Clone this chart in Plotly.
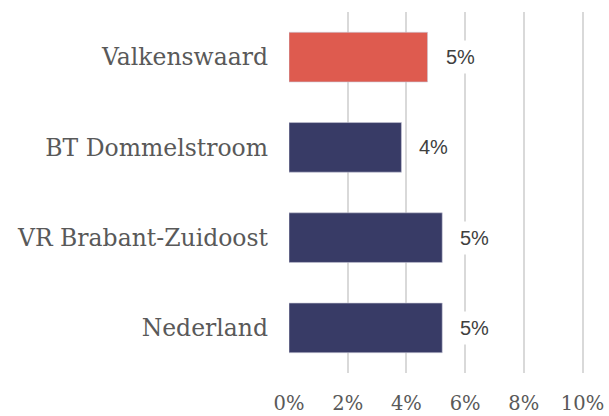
import plotly.graph_objects as go

# Share per area (fraction), top to bottom
areas = ["Valkenswaard", "BT Dommelstroom", "VR Brabant-Zuidoost", "Nederland"]
shares = [0.0472, 0.0383, 0.0522, 0.0522]
bar_colors = ["#DE5B4F", "#383B66", "#383B66", "#383B66"]

tick_vals = [0, 0.02, 0.04, 0.06, 0.08, 0.10]
tick_text = ["0%", "2%", "4%", "6%", "8%", "10%"]

fig = go.Figure(
    go.Bar(
        x=shares,
        y=areas,
        orientation="h",
        marker=dict(color=bar_colors, line=dict(color="rgba(200,200,215,0.6)", width=1)),
        width=0.55,
        hoverinfo="skip",
    )
)

# Value labels on a white box so the gridlines stop behind them
for area, v in zip(areas, shares):
    fig.add_annotation(
        x=v, y=area, text=f"{v:.0%}", showarrow=False,
        xanchor="left", yanchor="middle", xshift=12,
        bgcolor="white", borderpad=5,
        font=dict(family="Liberation Sans, Arial, sans-serif", size=20, color="#404040"),
    )

fig.update_layout(
    width=609, height=416,
    margin=dict(l=289, r=25, t=12, b=43, autoexpand=False),
    paper_bgcolor="white", plot_bgcolor="white",
    showlegend=False,
    font=dict(family="DejaVu Serif, serif", color="#595959"),
)
fig.update_xaxes(
    range=[0, 0.1005],
    tickvals=tick_vals, ticktext=tick_text,
    showgrid=True, gridcolor="#D9D9D9", gridwidth=2,
    zeroline=False, showline=False,
    automargin=False,
    tickfont=dict(family="DejaVu Serif, serif", size=19.5, color="#595959"),
    ticklabelstandoff=16,
)
fig.update_yaxes(
    autorange="reversed",
    showgrid=False, zeroline=False, showline=False,
    automargin=False,
    tickfont=dict(family="DejaVu Serif, serif", size=23.5, color="#595959"),
    ticklabelstandoff=20,
)

fig.write_html("out.html")
